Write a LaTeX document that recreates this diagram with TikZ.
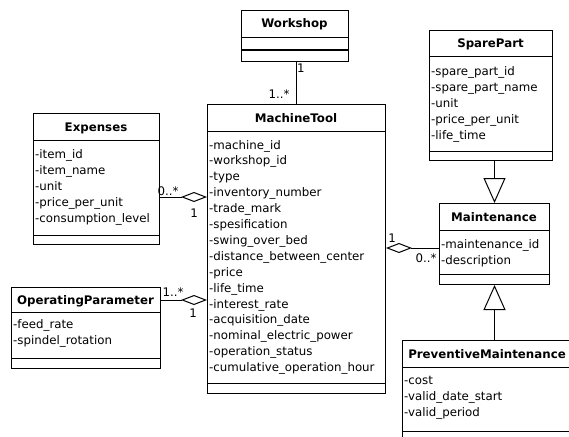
\documentclass[tikz,border=0pt]{standalone}
\usepackage{fontspec}
\setmainfont{DejaVu Sans}
\usetikzlibrary{arrows.meta}

% horizontal rules of a class box: below the name and above the (empty) operations part
\newcommand\classrules[3]{%
  \draw[link] ([yshift=-#2pt]#1.north west) -- ([yshift=-#2pt]#1.north east);
  \draw[link] ([yshift=#3pt]#1.south west) -- ([yshift=#3pt]#1.south east);
}

\begin{document}
\begin{tikzpicture}[x=1pt,y=-1pt,
  box/.style={draw, line width=1pt, inner sep=0pt, anchor=north west},
  ttl/.style={font=\fontsize{11.8}{14}\selectfont\bfseries, inner sep=0pt, anchor=base},
  attr/.style={font=\fontsize{11.8}{14}\selectfont, inner sep=0pt, anchor=base west},
  lbl/.style={font=\fontsize{11.8}{14}\selectfont, inner sep=0pt},
  link/.style={line width=1pt},
  aggr/.style={link, -{Diamond[open, length=26pt, width=10pt]}},
  gen/.style={link, -{Triangle[open, length=25pt, width=22pt]}},
]
\useasboundingbox (0,0) rectangle (569,436);
\clip (0,0) rectangle (569,436);
\fill[white] (0,0) rectangle (569,436);

% ---- Workshop
\node[box, minimum width=107pt, minimum height=51pt] (ws) at (241,10) {};
\classrules{ws}{28}{12}
\node[ttl] (ws-t) at (294.5,28) {Workshop};

% ---- MachineTool
\node[box, minimum width=178pt, minimum height=289pt] (mt) at (207,104) {};
\classrules{mt}{27}{11}
\node[ttl] (mt-t) at (296,122) {MachineTool};
\foreach \a [count=\i] in {-machine\_id,-workshop\_id,-type,-inventory\_number,
  -trade\_mark,-spesification,-swing\_over\_bed,-distance\_between\_center,
  -price,-life\_time,-interest\_rate,-acquisition\_date,-nominal\_electric\_power,
  -operation\_status,-cumulative\_operation\_hour}
  \node[attr] (mt-\i) at (209,{149+15.9*(\i-1)}) {\a};

% ---- Expenses
\node[box, minimum width=126pt, minimum height=131pt] (ex) at (33,113) {};
\classrules{ex}{27}{10}
\node[ttl] (ex-t) at (96,131) {Expenses};
\foreach \a [count=\i] in {-item\_id,-item\_name,-unit,-price\_per\_unit,-consumption\_level}
  \node[attr] (ex-\i) at (35,{158+16*(\i-1)}) {\a};

% ---- OperatingParameter
\node[box, minimum width=149pt, minimum height=81pt] (op) at (11,287) {};
\classrules{op}{25}{11}
\node[ttl] (op-t) at (85.5,304) {OperatingParameter};
\foreach \a [count=\i] in {-feed\_rate,-spindel\_rotation}
  \node[attr] (op-\i) at (13,{328+16*(\i-1)}) {\a};

% ---- SparePart
\node[box, minimum width=123pt, minimum height=130pt] (sp) at (429,30) {};
\classrules{sp}{26}{10}
\node[ttl] (sp-t) at (490.5,47.5) {SparePart};
\foreach \a [count=\i] in {-spare\_part\_id,-spare\_part\_name,-unit,-price\_per\_unit,-life\_time}
  \node[attr] (sp-\i) at (431,{75+16*(\i-1)}) {\a};

% ---- Maintenance
\node[box, minimum width=110pt, minimum height=81pt] (mn) at (439,203) {};
\classrules{mn}{27}{11}
\node[ttl] (mn-t) at (494,221) {Maintenance};
\foreach \a [count=\i] in {-maintenance\_id,-description}
  \node[attr] (mn-\i) at (441,{248+16*(\i-1)}) {\a};

% ---- PreventiveMaintenance (runs past the right and bottom edges)
\node[box, minimum width=170pt, minimum height=102pt] (pm) at (402,340) {};
\classrules{pm}{27}{12}
\node[ttl] (pm-t) at (487,358) {PreventiveMaintenance};
\foreach \a [count=\i] in {-cost,-valid\_date\_start,-valid\_period}
  \node[attr] (pm-\i) at (404,{384+16*(\i-1)}) {\a};

% ---- associations
\draw[link] (ws.south -| 296,0) -- (mt.north -| 296,0);
\node[lbl, anchor=west] (l1) at (297,68) {1};
\node[lbl] (l2) at (279,94) {1..*};

\draw[aggr] (ex.east |- 0,197) -- (mt.west |- 0,197);
\node[lbl] (l3) at (168,191) {0..*};
\node[lbl] (l4) at (194,213) {1};

\draw[aggr] (op.east |- 0,300) -- (mt.west |- 0,300);
\node[lbl] (l5) at (173,292) {1..*};
\node[lbl] (l6) at (193,313) {1};

\draw[aggr] (mn.west |- 0,248) -- (mt.east |- 0,248);
\node[lbl] (l7) at (392,238) {1};
\node[lbl] (l8) at (426,258) {0..*};

% ---- generalisations
\draw[gen] (sp.south -| mn.north) -- (mn.north);
\draw[gen] (pm.north -| mn.south) -- (mn.south);
\end{tikzpicture}
\end{document}
